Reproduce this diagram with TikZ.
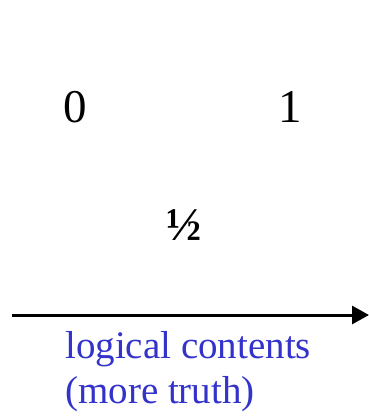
\documentclass[tikz,border=0pt]{standalone}
\usepackage{fontspec}
\setmainfont{Liberation Serif}
\usepackage{xcolor}
\usetikzlibrary{arrows.meta, positioning}
\definecolor{textblue}{RGB}{51,51,204}

\begin{document}
\begin{tikzpicture}[
    x=1pt, y=-1pt,
    numtext/.style={font=\fontsize{47}{50}\selectfont, inner sep=0pt, anchor=base},
    halftext/.style={font=\fontsize{47}{50}\selectfont\bfseries, inner sep=0pt, anchor=base},
    axistext/.style={font=\fontsize{39}{45}\selectfont, text=textblue, inner sep=0pt, anchor=base west},
    axisarrow/.style={line width=3pt, -{Triangle[length=17pt,width=18pt]}}
]
\useasboundingbox (0,0) rectangle (369,416);
\node[numtext] (zero) at (75,122) {0};
\node[numtext] (one) at (290,122) {1};
\node[halftext] (half) at (184,240) {½};

\coordinate (axisL) at (12,315);
\coordinate (axisR) at (369,315);
\draw[axisarrow] (axisL) -- (axisR);

\node[axistext] (contents) at (65,358) {logical contents};
\node[axistext] (truth) at (65,403) {(more truth)};
\end{tikzpicture}
\end{document}
